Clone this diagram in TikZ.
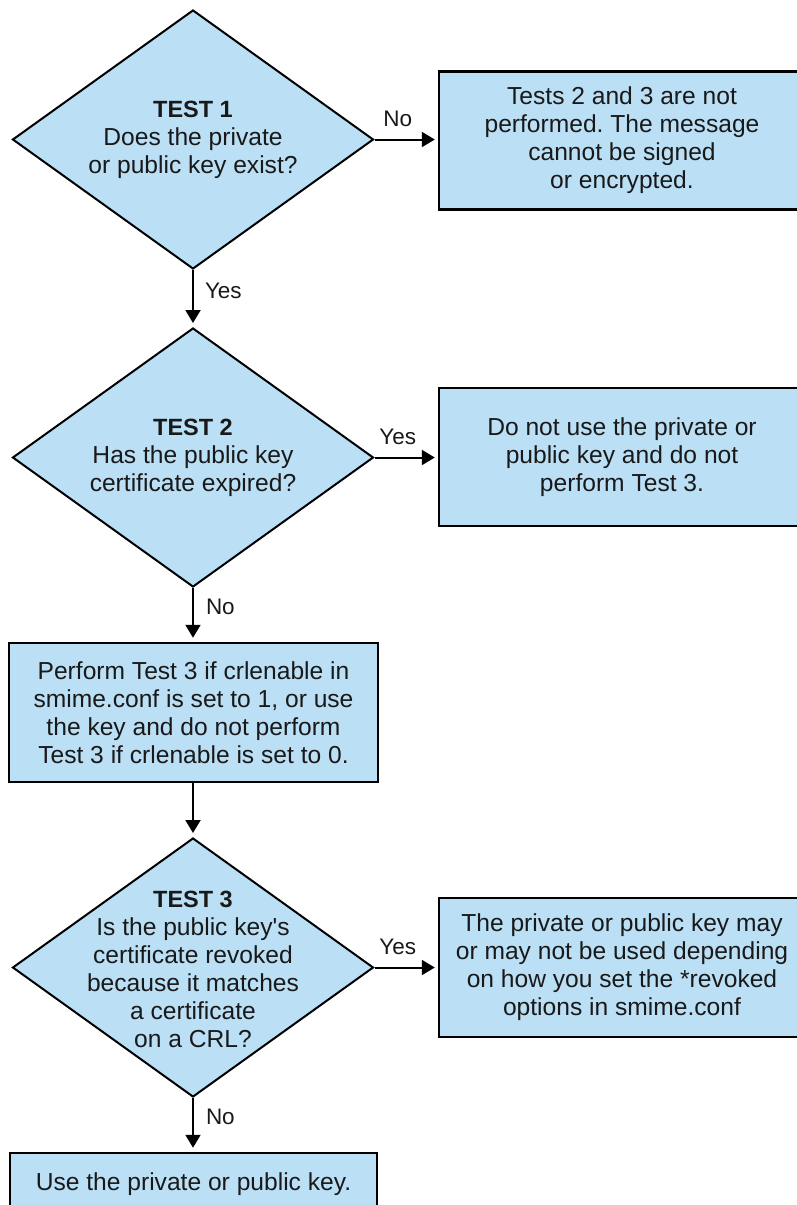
\documentclass[tikz,border=0pt]{standalone}
\usepackage{fontspec}
\setmainfont{Liberation Sans}
\usetikzlibrary{shapes.geometric,arrows.meta}
\definecolor{boxblue}{RGB}{187,224,246}
\definecolor{ink}{RGB}{25,25,25}
\frenchspacing
\newcommand{\testhead}[1]{{\fontsize{23.5}{28}\selectfont\bfseries #1}}
\begin{document}
\begin{tikzpicture}[x=1pt,y=-1pt,
  txt/.style={font=\fontsize{24.6}{28}\selectfont, align=center, text=ink},
  decision/.style={diamond, draw=black, fill=boxblue, line width=2pt,
    minimum width=361pt, minimum height=259pt, inner sep=0pt},
  dlabel/.style={txt, inner sep=0pt},
  action/.style={rectangle, draw=black, fill=boxblue, line width=2.5pt,
    txt, inner sep=0pt},
  sideaction/.style={rectangle, fill=boxblue, txt, inner sep=0pt,
    minimum width=380pt},
  edgeline/.style={draw=black, line width=2.5pt},
  flow/.style={line width=2pt, -{Triangle[length=13pt,width=15pt]}, shorten >=4pt},
  branch/.style={font=\fontsize{22.5}{26}\selectfont, text=ink, inner sep=0pt}
]
\useasboundingbox (0,0) rectangle (797,1205);
\clip (0,0) rectangle (797,1205);

% decisions
\node[decision, label={[dlabel]center:\testhead{TEST 1}\\Does the private\\or public key exist?}] (d1) at (193,139.5) {};
\node[decision, label={[dlabel]center:\testhead{TEST 2}\\Has the public key\\certificate expired?}] (d2) at (193,457.5) {};
\node[decision, label={[dlabel,yshift=-2pt]center:\testhead{TEST 3}\\Is the public key\textquotesingle s\\certificate revoked\\because it matches\\a certificate\\on a CRL?}] (d3) at (193,967.5) {};

% actions on the right run off the right edge, so only three sides are outlined;
% their text stays centred on x=622
\node[sideaction, minimum height=138pt,
  label={[dlabel,xshift=-7pt]center:Tests 2 and 3 are not\\performed. The message\\cannot be signed\\or encrypted.}] (b1) at (629,140.5) {};
\node[sideaction, minimum height=138pt,
  label={[dlabel,xshift=-7pt]center:Do not use the private or\\public key and do not\\perform Test 3.}] (b2) at (629,457) {};
\node[sideaction, minimum height=139pt,
  label={[dlabel,xshift=-7pt]center:The private or public key may\\or may not be used depending\\on how you set the *revoked\\options in smime.conf}] (b3) at (629,967.5) {};
\foreach \b in {b1,b2,b3}
  \path[edgeline] (\b.north east) -- (\b.north west) -- (\b.south west) -- (\b.south east);

\node[action, minimum width=369pt, minimum height=139pt] (p) at (193.5,712.5)
  {Perform Test 3 if crlenable in\\smime.conf is set to 1, or use\\the key and do not perform\\Test 3 if crlenable is set to 0.};
\node[action, minimum width=367pt, minimum height=62pt] (u) at (193.5,1184)
  {Use the private or public key.};

% connectors
\draw[flow] (d1.east) -- node[branch, above=12pt, pos=0.36] {No} (d1.east -| b1.west);
\draw[flow] (d1.south) -- node[branch, anchor=west, xshift=11pt, pos=0.37] {Yes} (d2.north);
\draw[flow] (d2.east) -- node[branch, above=12pt, pos=0.36] {Yes} (d2.east -| b2.west);
\draw[flow] (d2.south) -- node[branch, anchor=west, xshift=12pt, pos=0.36] {No} (d2.south |- p.north);
\draw[flow] (d2.south |- p.south) -- (d3.north);
\draw[flow] (d3.east) -- node[branch, above=12pt, pos=0.36] {Yes} (d3.east -| b3.west);
\draw[flow] (d3.south) -- node[branch, anchor=west, xshift=12pt, pos=0.36] {No} (d3.south |- u.north);
\end{tikzpicture}
\end{document}
